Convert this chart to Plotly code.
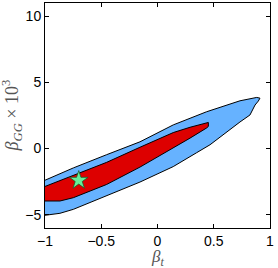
import plotly.graph_objects as go

# 95% (outer, blue) contour of the posterior
blue_x = [-1.0, -0.748, -0.452, -0.156, 0.140, 0.437, 0.733, 0.822, 0.882, 0.911,
          0.902, 0.896, 0.867, 0.822, 0.733, 0.615, 0.467, 0.348, 0.140, -0.156,
          -0.452, -0.748, -0.867, -0.99, -1.0]
blue_y = [-2.39, -1.46, -0.46, 0.51, 1.79, 2.785, 3.61, 3.79, 3.865, 3.81,
          3.66, 3.59, 3.29, 2.54, 2.01, 1.22, 0.29, -0.31, -1.36, -2.53,
          -3.59, -4.59, -4.89, -5.04, -5.04]

# 68% (inner, red) contour
red_x = [-1.0, -0.748, -0.452, -0.156, 0.140, 0.289, 0.407, 0.452, 0.452,
         0.437, 0.289, 0.140, -0.156, -0.452, -0.748, -0.867, -1.0]
red_y = [-2.86, -2.04, -1.04, 0.10, 1.21, 1.61, 1.91, 1.975, 1.675,
         1.56, 0.79, 0.04, -1.40, -2.71, -3.71, -3.96, -3.96]

# best-fit point
best_x = [-0.70]
best_y = [-2.40]

x_ticks = [-1, -0.5, 0, 0.5, 1]
x_labels = ["−1", "−0.5", "0", "0.5", "1"]
y_ticks = [-5, 0, 5, 10]
y_labels = ["−5", "0", "5", "10"]

fig = go.Figure()
fig.add_trace(go.Scatter(x=blue_x, y=blue_y, mode="lines", fill="toself",
                         fillcolor="#66b2ff", line=dict(color="black", width=1),
                         hoverinfo="skip", showlegend=False))
fig.add_trace(go.Scatter(x=red_x, y=red_y, mode="lines", fill="toself",
                         fillcolor="#dd0000", line=dict(color="black", width=1),
                         hoverinfo="skip", showlegend=False))
fig.add_trace(go.Scatter(x=best_x, y=best_y, mode="markers",
                         marker=dict(symbol="star", size=14, color="#66ee99",
                                     line=dict(color="#1a5a2a", width=0.8)),
                         showlegend=False))

axis_common = dict(showgrid=False, zeroline=False, showline=True, linecolor="black",
                   linewidth=1, mirror="allticks", ticks="inside", ticklen=4,
                   tickcolor="black", tickwidth=1, automargin=False,
                   tickfont=dict(family="Liberation Sans, Arial", size=14, color="black"))

title_font = dict(family="Liberation Serif, Times New Roman", size=18, color="#555")
xtitle_font = dict(family="Liberation Serif, Times New Roman", size=17, color="#555")

fig.update_layout(
    template="none",
    width=278, height=268,
    margin=dict(l=45, r=8, t=3, b=40, autoexpand=False),
    paper_bgcolor="white", plot_bgcolor="white",
    xaxis=dict(range=[-1, 1], tickvals=x_ticks, ticktext=x_labels, **axis_common),
    yaxis=dict(range=[-6, 11], tickvals=y_ticks, ticktext=y_labels, **axis_common),
    annotations=[
        dict(text="<i>β<sub>t</sub></i>", xref="paper", yref="paper", x=0.5, y=-0.133,
             xanchor="center", yanchor="middle", showarrow=False, font=xtitle_font),
        dict(text="<i>β<sub>GG</sub></i> × 10<sup>3</sup>", xref="paper", yref="paper",
             x=-0.147, y=0.5, xanchor="center", yanchor="middle", textangle=-90,
             showarrow=False, font=title_font),
    ],
)

fig.write_html("out.html", config={"displayModeBar": False},
               post_script="document.body.style.margin='0';document.body.style.overflow='hidden';")
